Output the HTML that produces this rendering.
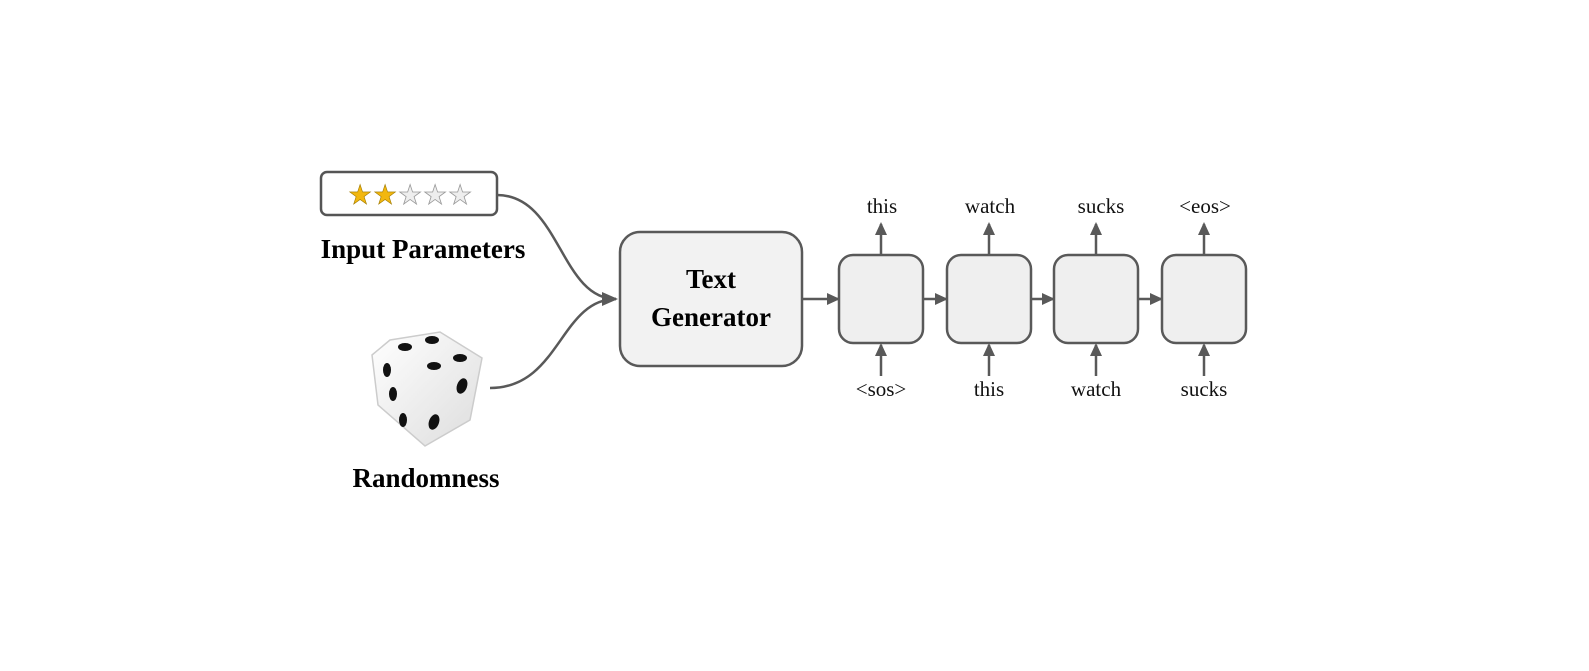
<!DOCTYPE html>
<html><head><style>body{margin:0;background:#fff}</style></head><body>
<svg width="1589" height="666" viewBox="0 0 1589 666" xmlns="http://www.w3.org/2000/svg" font-family="'Liberation Serif',serif">
<defs>
<marker id="a" markerWidth="13" markerHeight="12" refX="11" refY="6" orient="auto" markerUnits="userSpaceOnUse"><path d="M0,0 L13,6 L0,12 z" fill="#595959"/></marker>
<marker id="b" markerWidth="16" markerHeight="14" refX="14" refY="7" orient="auto" markerUnits="userSpaceOnUse"><path d="M0,0 L16,7 L0,14 z" fill="#595959"/></marker>
<linearGradient id="g" x1="0" y1="0" x2="1" y2="1"><stop offset="0" stop-color="#fff"/><stop offset="1" stop-color="#ddd"/></linearGradient>
</defs>
<rect x="321" y="172" width="176" height="43" rx="6" fill="#fff" stroke="#555" stroke-width="2.5"/>
<g font-size="27" font-family="'DejaVu Sans',sans-serif">
<text x="348" y="204" fill="#f2b70f" stroke="#a07a00" stroke-width="0.6">★</text>
<text x="373" y="204" fill="#f2b70f" stroke="#a07a00" stroke-width="0.6">★</text>
<text x="398" y="204" fill="#eee" stroke="#999" stroke-width="0.8">★</text>
<text x="423" y="204" fill="#eee" stroke="#999" stroke-width="0.8">★</text>
<text x="448" y="204" fill="#eee" stroke="#999" stroke-width="0.8">★</text>
</g>
<text x="423" y="258" text-anchor="middle" font-size="27" font-weight="bold">Input Parameters</text>
<path d="M497,195 C560,195 560,299 616,299" fill="none" stroke="#595959" stroke-width="2.5" marker-end="url(#b)"/>
<path d="M490,388 C560,388 560,299 616,299" fill="none" stroke="#595959" stroke-width="2.5"/>
<path d="M390,340 L440,332 L482,358 L470,420 L425,446 L378,405 L372,355 z" fill="url(#g)" stroke="#ccc" stroke-width="1.5"/>
<g fill="#111">
<ellipse cx="405" cy="347" rx="7" ry="4"/><ellipse cx="432" cy="340" rx="7" ry="4"/>
<ellipse cx="434" cy="366" rx="7" ry="4"/><ellipse cx="460" cy="358" rx="7" ry="4"/>
<ellipse cx="387" cy="370" rx="4" ry="7"/><ellipse cx="393" cy="394" rx="4" ry="7"/><ellipse cx="403" cy="420" rx="4" ry="7"/>
<ellipse cx="462" cy="386" rx="5" ry="8" transform="rotate(20 462 386)"/><ellipse cx="434" cy="422" rx="5" ry="8" transform="rotate(20 434 422)"/>
</g>
<text x="426" y="487" text-anchor="middle" font-size="27" font-weight="bold">Randomness</text>
<rect x="620" y="232" width="182" height="134" rx="20" fill="#f2f2f2" stroke="#595959" stroke-width="2.5"/>
<text x="711" y="288" text-anchor="middle" font-size="27" font-weight="bold">Text</text>
<text x="711" y="326" text-anchor="middle" font-size="27" font-weight="bold">Generator</text>
<g stroke="#595959" stroke-width="2.5" fill="none">
<line x1="802" y1="299" x2="838" y2="299" marker-end="url(#a)"/>
<line x1="923" y1="299" x2="946" y2="299" marker-end="url(#a)"/>
<line x1="1031" y1="299" x2="1053" y2="299" marker-end="url(#a)"/>
<line x1="1138" y1="299" x2="1161" y2="299" marker-end="url(#a)"/>
</g>
<g fill="#efefef" stroke="#595959" stroke-width="2.5">
<rect x="839" y="255" width="84" height="88" rx="14"/>
<rect x="947" y="255" width="84" height="88" rx="14"/>
<rect x="1054" y="255" width="84" height="88" rx="14"/>
<rect x="1162" y="255" width="84" height="88" rx="14"/>
</g>
<g stroke="#595959" stroke-width="2.5">
<line x1="881" y1="255" x2="881" y2="224" marker-end="url(#a)"/>
<line x1="989" y1="255" x2="989" y2="224" marker-end="url(#a)"/>
<line x1="1096" y1="255" x2="1096" y2="224" marker-end="url(#a)"/>
<line x1="1204" y1="255" x2="1204" y2="224" marker-end="url(#a)"/>
<line x1="881" y1="376" x2="881" y2="345" marker-end="url(#a)"/>
<line x1="989" y1="376" x2="989" y2="345" marker-end="url(#a)"/>
<line x1="1096" y1="376" x2="1096" y2="345" marker-end="url(#a)"/>
<line x1="1204" y1="376" x2="1204" y2="345" marker-end="url(#a)"/>
</g>
<g font-size="21" text-anchor="middle" fill="#111">
<text x="882" y="213">this</text><text x="990" y="213">watch</text><text x="1101" y="213">sucks</text><text x="1205" y="213">&lt;eos&gt;</text>
<text x="881" y="396">&lt;sos&gt;</text><text x="989" y="396">this</text><text x="1096" y="396">watch</text><text x="1204" y="396">sucks</text>
</g>
</svg>
</body></html>
